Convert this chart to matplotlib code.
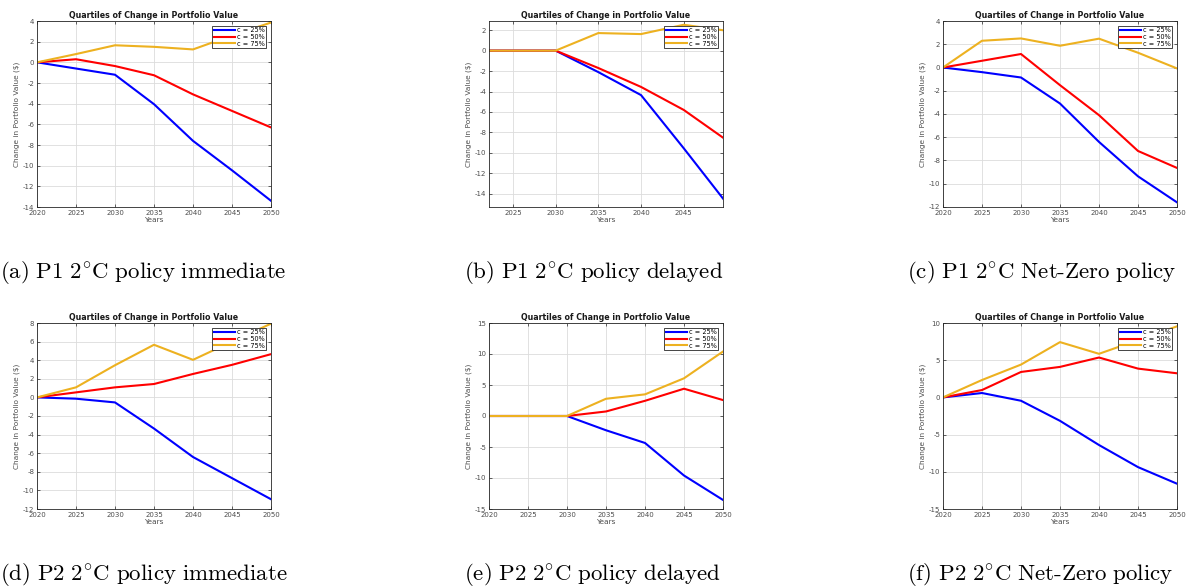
"""Quartile paths of portfolio value change under six climate scenarios."""
import matplotlib.pyplot as plt
import numpy as np

plt.rcParams["axes.unicode_minus"] = False
plt.rcParams["mathtext.fontset"] = "cm"

YEARS = [2020, 2025, 2030, 2035, 2040, 2045, 2050]
QUARTILE_LABELS = ["c = 25%", "c = 50%", "c = 75%"]
QUARTILE_COLORS = ["#0000ff", "#ff0000", "#edb120"]

# P1, 2°C policy immediate
p1_immediate_q25 = [0, -0.6, -1.2, -4.05, -7.6, -10.45, -13.4]
p1_immediate_q50 = [0, 0.3, -0.36, -1.25, -3.1, -4.7, -6.3]
p1_immediate_q75 = [0, 0.8, 1.65, 1.5, 1.25, 2.6, 3.85]

# P1, 2°C policy delayed
p1_delayed_q25 = [0, 0, 0, -2.1, -4.35, -9.55, -14.9]
p1_delayed_q50 = [0, 0, 0, -1.7, -3.55, -5.8, -8.75]
p1_delayed_q75 = [0, 0, 0, 1.72, 1.62, 2.53, 1.95]

# P1, 2°C Net-Zero policy
p1_netzero_q25 = [0, -0.4, -0.86, -3.1, -6.4, -9.36, -11.6]
p1_netzero_q50 = [0, 0.58, 1.16, -1.52, -4.1, -7.18, -8.64]
p1_netzero_q75 = [0, 2.3, 2.5, 1.87, 2.48, 1.27, -0.08]

# P2, 2°C policy immediate
p2_immediate_q25 = [0, -0.14, -0.54, -3.35, -6.41, -8.68, -10.95]
p2_immediate_q50 = [0, 0.54, 1.08, 1.44, 2.52, 3.5, 4.65]
p2_immediate_q75 = [0, 1.08, 3.46, 5.66, 4.04, 6.0, 7.93]

# P2, 2°C policy delayed
p2_delayed_q25 = [0, 0, 0, -2.3, -4.35, -9.6, -13.54]
p2_delayed_q50 = [0, 0, 0, 0.73, 2.45, 4.4, 2.57]
p2_delayed_q75 = [0, 0, 0, 2.78, 3.49, 6.08, 10.4]

# P2, 2°C Net-Zero policy
p2_netzero_q25 = [0, 0.59, -0.45, -3.15, -6.4, -9.37, -11.6]
p2_netzero_q50 = [0, 0.99, 3.42, 4.1, 5.36, 3.87, 3.24]
p2_netzero_q75 = [0, 2.34, 4.41, 7.43, 5.86, 7.7, 9.55]

# captions set in Computer Modern; the hyphen stays outside math mode
CAPTIONS = [
    r"$\mathrm{(a)\ P1\ 2^{\circ}C\ policy\ immediate}$",
    r"$\mathrm{(b)\ P1\ 2^{\circ}C\ policy\ delayed}$",
    r"$\mathrm{(c)\ P1\ 2^{\circ}C\ Net}$-$\mathrm{Zero\ policy}$",
    r"$\mathrm{(d)\ P2\ 2^{\circ}C\ policy\ immediate}$",
    r"$\mathrm{(e)\ P2\ 2^{\circ}C\ policy\ delayed}$",
    r"$\mathrm{(f)\ P2\ 2^{\circ}C\ Net}$-$\mathrm{Zero\ policy}$",
]

panels = [
    (p1_immediate_q25, p1_immediate_q50, p1_immediate_q75),
    (p1_delayed_q25, p1_delayed_q50, p1_delayed_q75),
    (p1_netzero_q25, p1_netzero_q50, p1_netzero_q75),
    (p2_immediate_q25, p2_immediate_q50, p2_immediate_q75),
    (p2_delayed_q25, p2_delayed_q50, p2_delayed_q75),
    (p2_netzero_q25, p2_netzero_q50, p2_netzero_q75),
]

# per-panel axis ranges: (xlim, ylim, ytick step)
ranges = [
    ((2020, 2050), (-14, 4), 2),
    ((2022.2, 2049.6), (-15.3, 2.9), 2),
    ((2020, 2050), (-12, 4), 2),
    ((2020, 2050), (-12, 8), 2),
    ((2020, 2050), (-15, 15), 5),
    ((2020, 2050), (-15, 10), 5),
]

W, H = 1200, 587
fig = plt.figure(figsize=(W / 100, H / 100), dpi=100)

col_left = [37, 489, 943]
caption_left = [0, 464, 907]
row_top = [21, 323]
ax_w, ax_h = 234, 186
caption_y = [272, 574]

axis_grey = "#262626"

for i, (series, (xlim, ylim, step)) in enumerate(zip(panels, ranges)):
    r, c = divmod(i, 3)
    left, top = col_left[c], row_top[r]
    ax = fig.add_axes([left / W, 1 - (top + ax_h) / H, ax_w / W, ax_h / H])

    for vals, label, color in zip(series, QUARTILE_LABELS, QUARTILE_COLORS):
        ax.plot(YEARS, vals, color=color, lw=1.5, label=label)

    ax.set_xlim(*xlim)
    ax.set_ylim(*ylim)
    ax.set_xticks([y for y in range(2020, 2051, 5) if xlim[0] <= y <= xlim[1]])
    lo = int(np.ceil(ylim[0] / step) * step)
    hi = int(np.floor(ylim[1] / step) * step)
    ax.set_yticks(range(lo, hi + 1, step))

    ax.grid(True, color="#dcdcdc", lw=0.6)
    ax.set_axisbelow(True)
    for s in ax.spines.values():
        s.set_color(axis_grey)
        s.set_linewidth(0.6)
    ax.tick_params(direction="in", length=2.5, width=0.5, colors=axis_grey,
                   labelsize=5, pad=2, top=True, right=True,
                   labelcolor="#4d4d4d")

    ax.set_title("Quartiles of Change in Portfolio Value", fontsize=5.7,
                 fontweight="bold", pad=2.5, color="#1a1a1a")
    ax.set_xlabel("Years", fontsize=5.3, color="#4d4d4d", labelpad=1)
    ax.set_ylabel("Change in Portfolio Value ($)", fontsize=5.3,
                  color="#4d4d4d", labelpad=2)

    leg = ax.legend(loc="upper right", fontsize=4.7, handlelength=3.2,
                    borderaxespad=0.7, fancybox=False, framealpha=1,
                    borderpad=0.25, labelspacing=0.1, handletextpad=0.3)
    leg.get_frame().set_edgecolor(axis_grey)
    leg.get_frame().set_linewidth(0.6)

    fig.text(caption_left[c] / W, 1 - caption_y[r] / H, CAPTIONS[i],
             ha="left", va="center", fontsize=16.5, family="cmr10")

fig.savefig("out.png", dpi=100)
